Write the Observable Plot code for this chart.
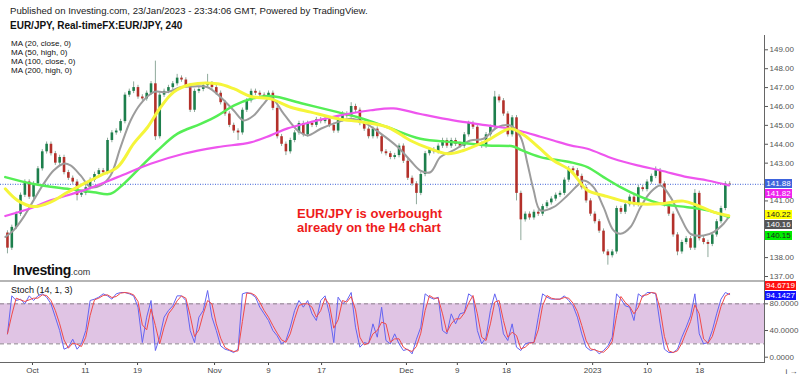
<!DOCTYPE html>
<html><head><meta charset="utf-8">
<script src="https://cdn.jsdelivr.net/npm/d3@7"></script>
<script src="https://cdn.jsdelivr.net/npm/@observablehq/plot@0.6"></script>
<style>
html,body{margin:0;padding:0;background:#fff;}
#root{position:relative;width:800px;height:376px;overflow:hidden;background:#fff;font-family:"Liberation Sans Narrow","Liberation Sans",Arial,sans-serif;}
.abs{position:absolute;white-space:nowrap;}
#root svg{position:absolute;left:0;}
.box{position:absolute;left:765px;width:27px;height:9px;font-size:8px;line-height:9px;text-align:center;font-family:"Liberation Sans Narrow","Liberation Sans",Arial,sans-serif;}
</style></head><body>
<div id="root"></div>
<script>
// ---------- DATA ----------
const firstOpen = 139.3;
const closes = [
138.5,139.6,140.3,141.3,142.0,141.2,141.9,142.7,143.6,144.0,
143.5,143.0,143.3,142.5,142.2,142.0,141.3,141.4,141.7,142.1,
142.4,142.6,142.5,144.2,144.6,144.7,145.2,146.6,146.8,147.0,
146.5,146.4,146.7,147.2,144.4,146.6,146.8,147.0,147.2,147.5,
147.4,147.1,145.8,146.8,146.9,147.1,147.2,147.0,146.7,146.2,
145.6,145.0,144.7,144.6,145.8,146.3,146.8,146.7,146.6,146.5,
146.7,145.9,144.4,144.0,143.6,144.2,144.6,145.1,144.5,145.1,
145.0,145.3,145.2,145.3,145.0,144.7,145.3,145.6,145.5,146.0,
145.8,145.1,144.8,144.4,144.8,144.4,143.6,143.5,143.3,143.4,
143.9,143.1,142.2,141.9,141.4,142.4,143.5,143.7,143.6,143.9,
144.2,143.9,144.2,144.0,143.9,144.5,145.1,144.9,144.0,143.9,
144.5,144.9,146.5,146.3,145.6,144.5,145.4,141.4,140.0,140.3,
140.1,140.4,140.3,140.7,140.9,141.1,141.3,141.4,142.1,142.7,
142.6,142.3,141.7,141.0,140.3,139.9,139.4,138.3,138.1,138.3,
140.6,140.4,140.8,141.2,140.8,141.7,141.6,142.0,142.3,142.6,
141.9,140.8,140.3,139.2,138.3,138.8,139.0,138.5,141.4,139.0,
138.8,138.7,139.2,139.9,140.6,141.9,141.88
];
// notable wick extremes [bar, price]
const wickHighs = [[34,148.4],[46,147.7],[112,146.8],[149,142.8],[29,147.3],[39,147.7],[79,146.2],[158,141.6]];
const wickLows  = [[0,138.2],[16,141.0],[34,144.2],[53,144.2],[64,143.4],[94,140.8],[118,138.9],[138,137.6],[161,138.0],[117,141.0],[154,138.1]];

// moving averages: [bar, price]
const ma20 = [[-0.5,139.09],[1.4,139.44],[3.7,140.14],[6,141.03],[8.3,141.9],[10.6,142.61],[12.9,142.97],[14.5,142.88],[16.8,142.35],[19.1,141.73],[21.4,141.82],[23.7,142.35],[26,143.85],[28.3,145.26],[30.6,146.14],[33.6,146.76],[36.8,146.76],[39.8,147.02],[42.8,147.06],[46,147.02],[49,146.49],[52,145.79],[54.3,145.26],[56.6,145.52],[58.9,146.14],[60.5,146.49],[63.5,145.61],[66.7,144.73],[69,144.47],[72,144.82],[75.9,145.17],[78.9,145.35],[81.8,145.17],[85.8,144.56],[89.7,143.85],[92.6,143.14],[94.9,142.61],[97.2,142.52],[99.5,143.32],[102.5,143.67],[106.4,144.2],[109.4,144.29],[112.6,144.9],[115.6,144.99],[117.9,144.4],[119.5,143.0],[120.9,141.6],[122.5,140.5],[125.5,140.67],[128.7,141.29],[131,141.82],[132.4,142.08],[134.7,141.73],[137,140.67],[139.3,139.44],[140.9,139.26],[143.2,139.62],[145.5,140.67],[147.8,141.46],[150.1,141.82],[152.4,141.2],[154.7,140.14],[157,139.26],[160,139.17],[162.3,139.35],[164.6,139.79],[165.8,140.16]];
const ma50 = [[-0.5,141.64],[2.3,141.03],[6,140.7],[9.9,140.94],[13.8,141.46],[17.5,141.9],[21.4,142.35],[25.3,142.79],[29,144.03],[32.2,144.9],[35.2,145.96],[38.2,146.76],[42.1,147.16],[48.3,147.2],[52,146.94],[55.9,146.53],[60.5,146.4],[65.1,145.96],[69.7,145.7],[75.9,145.35],[81.8,145.17],[87.4,144.9],[92.6,144.2],[96.6,143.81],[101.2,143.5],[104.8,143.67],[110.3,144.2],[115.6,144.82],[118.6,144.5],[122.5,143.75],[125.5,143.14],[129.4,142.61],[133.3,141.56],[137,141.29],[140.9,141.03],[144.8,140.85],[150.1,140.85],[155.4,140.99],[158.6,140.76],[162.3,140.41],[165.8,140.22]];
const ma100 = [[-0.5,142.26],[6,141.9],[13.8,141.64],[19.8,141.46],[23.7,141.38],[26.7,141.9],[30.6,142.79],[34.5,143.67],[39.1,144.56],[44.4,145.08],[48.3,145.52],[52,146.05],[55.9,146.4],[60.5,146.55],[68,146.14],[75.9,145.7],[80.5,145.43],[87.4,144.9],[94.9,144.29],[102.5,144.11],[110.3,143.94],[116.3,143.88],[118,143.7],[122.5,143.32],[129.4,143.05],[133.3,142.79],[137,142.26],[140.9,141.73],[144.8,141.29],[150.1,140.85],[156.3,140.67],[160.9,140.5],[165.8,140.15]];
const ma200 = [[-0.5,140.2],[6,140.67],[9.9,141.03],[17.5,141.56],[25.3,142.26],[32.9,142.97],[40.5,143.5],[48.3,143.85],[55.9,144.1],[60.5,144.47],[64.4,144.84],[69.7,145.17],[75.9,145.5],[83.5,145.8],[88.7,145.9],[94.9,145.6],[102.5,145.26],[110.3,145.0],[115.6,144.82],[117.9,144.7],[122.5,144.4],[125.5,144.2],[129.4,143.94],[133.3,143.76],[139.3,143.23],[144.8,142.88],[150.1,142.61],[156.3,142.26],[160.9,142.08],[165.8,141.82]];

// stochastic %K per bar
const stochK = [
35,92,85,87,80,92,85,92,95,90,
80,60,40,12,15,27,12,20,40,85,
87,90,95,92,87,95,97,97,95,92,
75,22,60,85,10,30,60,70,77,92,
92,85,40,22,60,70,100,60,40,17,
12,10,7,12,95,97,95,90,75,65,
55,40,32,20,25,45,70,85,75,85,
65,55,85,92,65,22,90,80,85,97,
45,15,22,20,50,30,75,25,20,35,
20,10,12,5,27,45,95,90,87,90,
40,35,65,50,65,67,95,90,40,20,
30,70,95,75,35,25,50,15,10,20,
22,22,60,95,90,87,87,87,92,85,
77,60,35,15,10,12,5,10,17,30,
95,87,77,75,55,95,90,97,97,95,
50,12,7,7,12,30,45,62,95,35,
20,22,40,65,87,97,94
];

// price ticks whose labels are not covered by the value boxes
const priceTicks = [137,138,141,143,144,145,146,147,148,149];
const stochTicks = [0,40,80];
const xTickBars = [5.75,17.9,29.9,47.6,60,72.2,91.7,103.4,114.7,134.5,147.1,159.1];
const xTickLabels = ["Oct","11","19","Nov","9","17","Dec","9","18","2023","10","18"];

const lastPrice = 141.88;
const priceLabels = [
  {v:141.88, t:"141.88", bg:"#3d63dd", fg:"#fff", dy:0},
  {v:141.82, t:"141.82", bg:"#ee22ee", fg:"#fff", dy:8.4},
  {v:140.22, t:"140.22", bg:"#ffff00", fg:"#222", dy:-1},
  {v:140.16, t:"140.16", bg:"#555555", fg:"#fff", dy:8.3},
  {v:140.15, t:"140.15", bg:"#00ee00", fg:"#222", dy:19.4}
];
const stochLabels = [
  {v:94.6719, t:"94.6719", bg:"#ff1010", fg:"#fff", dy:-8},
  {v:94.1427, t:"94.1427", bg:"#1010ff", fg:"#fff", dy:1.2}
];
const legendLines = ["MA (20, close, 0)","MA (50, high, 0)","MA (100, close, 0)","MA (200, high, 0)"];

// ---------- BUILD ----------
const hiMap = new Map(wickHighs), loMap = new Map(wickLows);
const candles = closes.map((c,i)=>{
  const o = i===0 ? firstOpen : closes[i-1];
  const hi = hiMap.has(i) ? hiMap.get(i) : Math.max(o,c)+0.12;
  const lo = loMap.has(i) ? loMap.get(i) : Math.min(o,c)-0.12;
  return {i,o,c,hi,lo,up:c>=o};
});
const toPts = a => a.map(([x,y])=>({x,y}));
const kData = stochK.map((k,i)=>({i,k}));

const X_DOMAIN = [-1.6, 174];
const X_RANGE = [0, 764];
const FONT = '"Liberation Sans Narrow","Liberation Sans",Arial,sans-serif';
const root = document.getElementById("root");

const main = Plot.plot({
  width: 800, height: 281, marginLeft: 0, marginRight: 36, marginTop: 35, marginBottom: 0,
  style: {background: "transparent", fontFamily: FONT, overflow: "visible"},
  x: {domain: X_DOMAIN, range: X_RANGE, axis: null},
  y: {domain: [137,149], range: [276,49.3], axis: null},
  marks: [
    Plot.ruleY([lastPrice], {stroke: "#3d5fd6", strokeDasharray: "1,1.5", strokeWidth: 1}),
    Plot.ruleX(candles, {x: "i", y1: "lo", y2: "hi", stroke: "#8fa99b", strokeWidth: 1}),
    Plot.ruleX(candles, {x: "i", y1: "o", y2: "c", stroke: d => d.up ? "#1d7f4c" : "#b3302a", strokeWidth: 2.6}),
    Plot.line(toPts(ma20), {x: "x", y: "y", stroke: "#9c9c9c", strokeWidth: 2, curve: "catmull-rom"}),
    Plot.line(toPts(ma100), {x: "x", y: "y", stroke: "#55ee55", strokeWidth: 2.5, curve: "catmull-rom"}),
    Plot.line(toPts(ma200), {x: "x", y: "y", stroke: "#ee55ee", strokeWidth: 2.2, curve: "catmull-rom"}),
    Plot.line(toPts(ma50), {x: "x", y: "y", stroke: "#f5f53a", strokeWidth: 3, curve: "catmull-rom"}),
    Plot.axisY({anchor: "right", ticks: priceTicks, tickFormat: d3.format(".2f"), tickSize: 3, tickPadding: 2, fontSize: 8, color: "#555"})
  ]
});
main.style.top = "0px";
root.appendChild(main);

const stoch = Plot.plot({
  width: 800, height: 95, marginLeft: 0, marginRight: 36, marginTop: 0, marginBottom: 14,
  style: {background: "transparent", fontFamily: FONT, overflow: "visible"},
  x: {domain: X_DOMAIN, range: X_RANGE, axis: null},
  y: {domain: [0,100], range: [75.7, 9.0], axis: null},
  marks: [
    Plot.rect([{a:20,b:80}], {x1: () => X_DOMAIN[0], x2: () => X_DOMAIN[1], y1: "a", y2: "b", fill: "#e0c4e4"}),
    Plot.ruleY([20,80], {stroke: "#8c7f8c", strokeDasharray: "4,3", strokeWidth: 1}),
    Plot.line(kData, {x: "i", y: "k", stroke: "#6464f2", strokeWidth: 1}),
    Plot.line(kData, Plot.windowY({k: 2, anchor: "end"}, {x: "i", y: "k", stroke: "#f04a4a", strokeWidth: 1})),
    Plot.axisY({anchor: "right", ticks: stochTicks, tickFormat: d3.format(".4f"), tickSize: 3, tickPadding: 2, fontSize: 8, color: "#555"}),
    Plot.axisX({anchor: "bottom", ticks: xTickBars, tickFormat: d => xTickLabels[xTickBars.indexOf(d)], tickSize: 3, tickPadding: 2, fontSize: 8, color: "#444"})
  ]
});
stoch.style.top = "281px";
root.appendChild(stoch);

// structural lines
function line(css){ const d=document.createElement("div"); d.className="abs"; d.style.cssText += css; root.appendChild(d); }
line("left:764px;top:35px;width:1px;height:327px;background:#666;");
line("left:0px;top:362px;width:765px;height:1px;background:#666;");
line("left:0px;top:280px;width:764px;height:2px;background:#b5b5b5;");

// value boxes using the plots' scales
const ysMain = main.scale("y"), ysSt = stoch.scale("y");
function box(l, top, w){
  const d=document.createElement("div"); d.className="box";
  d.style.top = (top - 4.5) + "px"; d.style.background = l.bg; d.style.color = l.fg; d.textContent = l.t;
  if (w) d.style.width = w + "px";
  root.appendChild(d);
}
priceLabels.forEach(l => box(l, ysMain.apply(l.v) + l.dy));
stochLabels.forEach(l => box(l, 281 + ysSt.apply(l.v) + l.dy, 31));

// texts
function txt(s, css){ const d=document.createElement("div"); d.className="abs"; d.style.cssText += css; d.textContent=s; root.appendChild(d); return d; }
txt("Published on Investing.com, 23/Jan/2023 - 23:34:06 GMT, Powered by TradingView.", "left:10px;top:5px;font-size:9.6px;color:#222;");
txt("EUR/JPY, Real-timeFX:EUR/JPY, 240", "left:10px;top:19.5px;font-size:10px;font-weight:bold;color:#111;");
legendLines.forEach((s,i)=> txt(s, `left:11px;top:${38.5 + i*9}px;font-size:8px;line-height:9px;height:9px;color:#111;`));
txt("Stoch (14, 1, 3)", "left:11px;top:286px;font-size:9px;line-height:9px;color:#111;");
const ann = txt("", "left:297px;top:207px;font-family:'Liberation Sans',Arial,sans-serif;font-size:13px;line-height:14.3px;font-weight:bold;color:#ee1b1b;");
ann.innerHTML = "EUR/JPY is overbought<br>already on the H4 chart";
const logo = txt("", "left:13px;top:261px;font-family:'Liberation Sans',Arial,sans-serif;color:#111;");
logo.innerHTML = '<span style="font-size:14px;font-weight:bold;letter-spacing:-0.4px">Investing</span><span style="font-size:9px;color:#333">.com</span>';
</script>
</body></html>
